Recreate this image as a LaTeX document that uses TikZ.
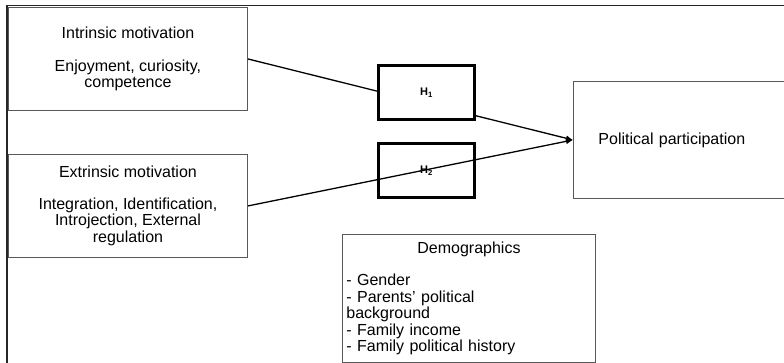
\documentclass[tikz,border=0pt]{standalone}
\usepackage{fontspec}
\setmainfont{Liberation Sans}
\usetikzlibrary{arrows.meta}

\begin{document}
\begin{tikzpicture}[
    x=1pt, y=-1pt,
    box/.style={rectangle, draw=black!65, line width=0.9pt, fill=white, inner sep=3pt,
        font=\fontsize{16}{16.5}\selectfont, align=center},
    hyp/.style={rectangle, draw=black, line width=3.2pt, fill=white, minimum width=96pt,
        minimum height=54pt, inner sep=0pt, font=\fontsize{11}{12}\selectfont\bfseries},
    link/.style={-{Latex[length=7pt,width=6pt]}, line width=1.3pt}
]

    % Canvas and outer frame (cut off at right and bottom)
    \useasboundingbox (0,0) rectangle (784,363);
    \clip (0,0) rectangle (784,363);
    \draw[line width=1.8pt, draw=black!85] (7,5.5) rectangle (820,400);

    % Motivation boxes
    \node[box, anchor=north west, minimum width=239pt, minimum height=103pt] (intr) at (8,7)
        {Intrinsic motivation\\[16pt]Enjoyment, curiosity,\\competence};
    \node[box, anchor=north west, minimum width=239pt, minimum height=103pt] (extr) at (8,154)
        {Extrinsic motivation\\[15pt]Integration, Identification,\\Introjection, External\\regulation};

    % Outcome box
    \node[box, anchor=north west, minimum width=230pt, minimum height=117pt,
        text width=180pt, inner xsep=25pt, align=left] (pol) at (573,81)
        {Political participation};

    % Path through H1 (hidden behind the box)
    \draw[link] (intr.east) -- (pol.west);

    % Hypothesis boxes
    \node[hyp] (h1) at (426.5,92.5) {H\textsubscript{1}};
    \node[hyp] (h2) at (426.5,170.5) {H\textsubscript{2}};

    % Path across H2
    \draw[link] (extr.east) -- (pol.west);

    % Control variables
    \node[box, anchor=north west, minimum width=253pt, minimum height=128pt,
        text width=245pt, inner xsep=4pt, align=left] (demo) at (342,234)
        {\makebox[245pt]{Demographics}\\[16pt]- Gender\\- Parents’ political\\background\\- Family income\\- Family political history};

\end{tikzpicture}
\end{document}
